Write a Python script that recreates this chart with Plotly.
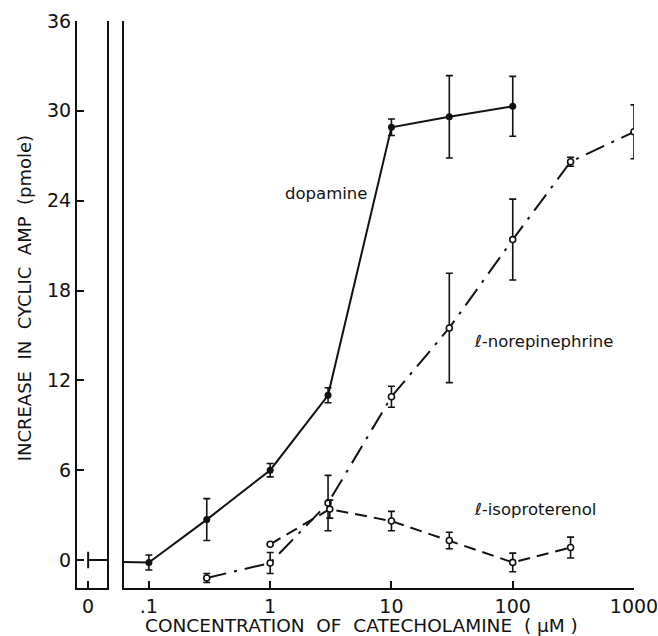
import plotly.graph_objects as go

# concentrations in uM
dop_x = [0.1, 0.3, 1, 3, 10, 30, 100]
dop_y = [-0.17, 2.7, 6.0, 11.0, 28.9, 29.6, 30.3]
dop_err = [0.5, 1.4, 0.45, 0.5, 0.55, 2.75, 2.0]

ne_x = [0.3, 1, 3, 10, 30, 100, 300, 1000]
ne_y = [-1.2, -0.2, 3.8, 10.9, 15.5, 21.4, 26.6, 28.6]
ne_err = [0.3, 0.7, 1.85, 0.7, 3.65, 2.7, 0.3, 1.8]

iso_x = [1, 3.1, 10, 30, 100, 300]
iso_y = [1.05, 3.4, 2.6, 1.3, -0.16, 0.83]
iso_err = [None, 0.6, 0.65, 0.55, 0.62, 0.7]

# control (zero concentration) point, shown in the left panel
ctrl_x = [0]
ctrl_y = [0]
ctrl_err = [0.55]

y_ticks = [0, 6, 12, 18, 24, 30, 36]
x_ticks = [0.1, 1, 10, 100, 1000]
x_ticktext = [".1", "1", "10", "100", "1000"]

FONT = "DejaVu Sans, Arial, sans-serif"
INK = "#111"

fig = go.Figure()

# control point + connector out to the axis break
fig.add_trace(go.Scatter(
    x=ctrl_x + [1], y=ctrl_y + ctrl_y, xaxis="x", yaxis="y",
    mode="lines", line=dict(color=INK, width=2), hoverinfo="skip",
))
fig.add_trace(go.Scatter(
    x=ctrl_x, y=ctrl_y, xaxis="x", yaxis="y", mode="markers",
    marker=dict(size=1, color=INK),
    error_y=dict(type="data", array=ctrl_err, color=INK, thickness=2, width=0),
))
# connector from the break into the right panel
fig.add_trace(go.Scatter(
    x=[0.01, dop_x[0]], y=ctrl_y + [dop_y[0]], xaxis="x2", yaxis="y2",
    mode="lines", line=dict(color=INK, width=2), hoverinfo="skip",
))

fig.add_trace(go.Scatter(
    x=dop_x, y=dop_y, xaxis="x2", yaxis="y2", name="dopamine",
    mode="lines+markers",
    line=dict(color=INK, width=2),
    marker=dict(size=7, color=INK),
    error_y=dict(type="data", array=dop_err, color=INK, thickness=1.6, width=3.5),
))
fig.add_trace(go.Scatter(
    x=ne_x, y=ne_y, xaxis="x2", yaxis="y2", name="l-norepinephrine",
    mode="lines+markers",
    line=dict(color=INK, width=2, dash="20px,8px,3px,8px"),
    marker=dict(size=6, color="white", line=dict(color=INK, width=1.6)),
    error_y=dict(type="data", array=ne_err, color=INK, thickness=1.6, width=3.5),
))
fig.add_trace(go.Scatter(
    x=iso_x, y=iso_y, xaxis="x2", yaxis="y2", name="l-isoproterenol",
    mode="lines+markers",
    line=dict(color=INK, width=2, dash="12px,7px"),
    marker=dict(size=6, color="white", line=dict(color=INK, width=1.6)),
    error_y=dict(type="data", array=iso_err, color=INK, thickness=1.6, width=3.5),
))

label_font = dict(family=FONT, size=16.5, color=INK)
fig.add_annotation(x=0.46, y=24.5, xref="x2", yref="y2", text="dopamine",
                   showarrow=False, font=label_font)
fig.add_annotation(x=2.25, y=14.6, xref="x2", yref="y2", text="ℓ-norepinephrine",
                   showarrow=False, font=label_font)
fig.add_annotation(x=2.18, y=3.35, xref="x2", yref="y2", text="ℓ-isoproterenol",
                   showarrow=False, font=label_font)
fig.add_annotation(x=0.51, y=-0.067, xref="paper", yref="paper",
                   xanchor="center", yanchor="middle",
                   text="CONCENTRATION  OF  CATECHOLAMINE  ( μM )",
                   showarrow=False, font=dict(family=FONT, size=18.5, color=INK))
fig.add_annotation(x=-0.095, y=0.511, xref="paper", yref="paper", textangle=-90,
                   xanchor="center", yanchor="middle",
                   text="INCREASE  IN  CYCLIC  AMP  (pmole)",
                   showarrow=False, font=dict(family=FONT, size=18, color=INK))

axis_common = dict(showgrid=False, zeroline=False, showline=True, linecolor=INK,
                   linewidth=2, ticks="inside", ticklen=7, tickwidth=2, tickcolor=INK,
                   automargin=False,
                   tickfont=dict(family=FONT, size=19, color=INK))

fig.update_layout(
    width=658, height=636,
    margin=dict(l=77, r=24, t=21, b=48, autoexpand=False),
    paper_bgcolor="white", plot_bgcolor="white",
    showlegend=False,
    xaxis=dict(domain=[0, 0.054], range=[-0.37, 0.63], tickvals=ctrl_x,
               ticktext=["0"], anchor="y", **axis_common),
    xaxis2=dict(domain=[0.084, 1], type="log", range=[-1.207, 3.0],
                tickvals=x_ticks, ticktext=x_ticktext, anchor="y2",
                ticklabeloverflow="allow", **axis_common),
    yaxis=dict(domain=[0, 1], range=[-1.87, 36], tickvals=y_ticks, anchor="x",
               mirror=True, **axis_common),
    yaxis2=dict(domain=[0, 1], range=[-1.87, 36], matches="y", anchor="x2",
                showticklabels=False, ticks="", showgrid=False, zeroline=False,
                showline=True, linecolor=INK, linewidth=2),
)

# drop the default page margin so the figure fills the window exactly
fig.write_html(
    "out.html",
    config={"displayModeBar": False},
    post_script="document.body.style.margin='0';document.body.style.overflow='hidden';",
)
